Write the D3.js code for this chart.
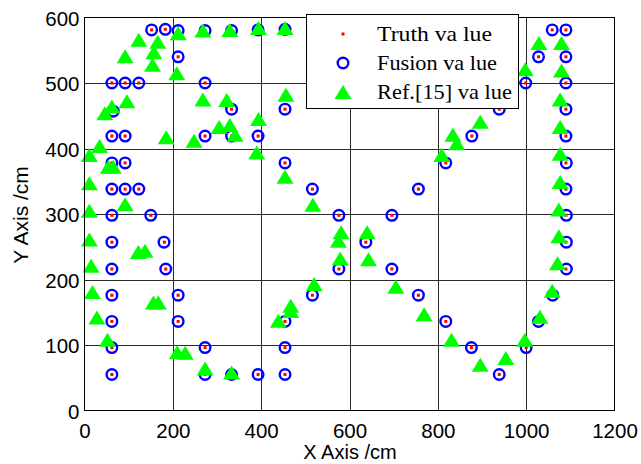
<!DOCTYPE html>
<html>
<head>
<meta charset="utf-8">
<script src="https://cdn.jsdelivr.net/npm/d3@7"></script>
<style>
  body { margin: 0; background: #fff; }
  svg { display: block; }
</style>
</head>
<body>
<svg id="chart"></svg>
<script>
var width = 641;
var height = 464;

// truth positions (cm)
var truthX = [152,183,212,273,333,393,454,1059,1090,
              212,1028,1090,
              62,92,123,273,999,1090,
              62,333,454,939,1090,
              62,92,273,333,393,877,1090,
              62,92,454,818,1090,
              62,92,123,516,756,1090,
              62,150,576,696,1090,
              62,181,637,1090,
              62,184,576,696,1090,
              62,212,516,756,1060,
              62,212,454,818,1029,
              62,273,454,876,1000,
              62,273,333,393,454,939];
var truthY = [581,582,580,580,580,581,582,581,581,
              540,540,540,
              500,500,500,500,500,500,
              460,460,460,460,460,
              419,419,419,419,419,419,419,
              378,378,378,378,378,
              338,338,338,338,338,338,
              298,298,298,298,298,
              257,257,257,257,
              216,216,216,216,216,
              176,176,176,176,176,
              136,136,136,136,136,
              96,96,96,96,96,
              55,55,55,55,55,55];

// fusion estimates (cm)
var fusionX = [152,183,212,273,333,393,454,1059,1090,
               212,1028,1090,
               62,92,123,273,999,1090,
               65,333,454,939,1090,
               62,92,273,333,393,877,1090,
               62,92,454,818,1091,
               62,92,123,516,756,1090,
               62,150,576,696,1091,
               62,180,637,1091,
               62,184,576,696,1091,
               62,212,516,756,1060,
               62,212,454,818,1028,
               62,273,454,876,1000,
               62,273,333,393,454,939];
var fusionY = [581,582,580,580,580,581,582,581,581,
               540,540,540,
               500,500,500,500,500,500,
               457,460,460,460,460,
               419,419,419,419,419,419,419,
               378,378,378,378,378,
               338,338,338,338,338,338,
               298,298,298,298,298,
               257,257,257,257,
               216,216,216,216,216,
               176,176,176,176,176,
               136,136,136,136,136,
               96,96,96,96,96,
               55,55,55,55,55,55];

// Ref.[15] positions (cm)
var refX = [123,166,157,154,212,268,329,394,454,
            92,209,268,322,96,62,46,185,248,305,329,341,394,390,
            34,11,54,65,11,92,11,11,122,137,15,18,156,167,28,52,
            210,228,273,333,439,456,454,517,834,843,809,998,
            581,575,579,640,643,520,467,467,705,769,831,896,954,
            997,1031,1059,1071,896,1029,1080,1080,1077,1077,1077,1077,1074,1074];
var refY = [566,563,547,528,576,580,581,584,584,
            541,515,475,474,472,464,454,417,412,433,436,421,445,394,
            404,390,372,372,347,315,305,261,242,244,221,181,165,165,142,108,
            89,88,64,58,137,482,357,314,421,408,390,521,
            272,259,232,272,231,193,160,152,189,147,108,70,80,
            108,143,183,225,441,561,561,519,475,433,392,349,307,266];

var xTicks = [0,200,400,600,800,1000,1200];
var yTicks = [0,100,200,300,400,500,600];
var legendLabels = ["Truth va lue", "Fusion va lue", "Ref.[15] va lue"];

var svg = d3.select("#chart")
  .attr("width", width)
  .attr("height", height);

var x = d3.scaleLinear().domain([0, 1200]).range([84.5, 614.5]);
var y = d3.scaleLinear().domain([0, 600]).range([410.5, 17.5]);

// grid
var grid = svg.append("g").attr("class", "grid")
  .style("stroke", "#2a2a2a").style("stroke-width", 1);
grid.selectAll("line.gx")
  .data(xTicks.slice(1, -1))
  .enter().append("line")
  .attr("x1", function(d) { return Math.round(x(d)) + 0.5; })
  .attr("x2", function(d) { return Math.round(x(d)) + 0.5; })
  .attr("y1", y(0)).attr("y2", y(600));
grid.selectAll("line.gy")
  .data(yTicks.slice(1, -1))
  .enter().append("line")
  .attr("y1", function(d) { return Math.round(y(d)) + 0.5; })
  .attr("y2", function(d) { return Math.round(y(d)) + 0.5; })
  .attr("x1", x(0)).attr("x2", x(1200));

// axes
var xAxis = d3.axisBottom(x).tickValues(xTicks).tickFormat(d3.format("d")).tickSize(0).tickPadding(0);
var yAxis = d3.axisLeft(y).tickValues(yTicks).tickFormat(d3.format("d")).tickSize(0).tickPadding(0);

var gx = svg.append("g").attr("transform", "translate(0," + y(0) + ")").call(xAxis);
gx.select(".domain").remove();
gx.selectAll("text")
  .attr("y", 27).attr("dy", 0)
  .style("font-family", "'Liberation Sans', Arial, sans-serif")
  .style("font-size", "20.5px").style("fill", "#000");

var gy = svg.append("g").attr("transform", "translate(" + x(0) + ",0)").call(yAxis);
gy.select(".domain").remove();
gy.selectAll("text")
  .attr("x", -5).attr("dy", "0.38em")
  .style("font-family", "'Liberation Sans', Arial, sans-serif")
  .style("font-size", "20.5px").style("fill", "#000");

// markers
svg.append("g").selectAll("rect")
  .data(d3.range(truthX.length))
  .enter().append("rect")
  .attr("x", function(i) { return x(truthX[i]) - 1.5; })
  .attr("y", function(i) { return y(truthY[i]) - 1.5; })
  .attr("width", 3).attr("height", 3)
  .style("fill", "#ff0000");

svg.append("g").selectAll("circle")
  .data(d3.range(fusionX.length))
  .enter().append("circle")
  .attr("cx", function(i) { return x(fusionX[i]); })
  .attr("cy", function(i) { return y(fusionY[i]); })
  .attr("r", 5.3)
  .style("fill", "none")
  .style("stroke", "#0000ff")
  .style("stroke-width", 2.4);

function tri(cx, cy) {
  return "M" + cx + "," + (cy - 7) + "L" + (cx + 8.5) + "," + (cy + 7) + "L" + (cx - 8.5) + "," + (cy + 7) + "Z";
}

svg.append("g").selectAll("path")
  .data(d3.range(refX.length))
  .enter().append("path")
  .attr("d", function(i) { return tri(x(refX[i]), y(refY[i])); })
  .style("fill", "#00ff00");

// frame
svg.append("rect")
  .attr("x", x(0)).attr("y", y(600))
  .attr("width", x(1200) - x(0)).attr("height", y(0) - y(600))
  .style("fill", "none").style("stroke", "#000").style("stroke-width", 1);

// axis titles
svg.append("text")
  .attr("x", 350).attr("y", 459)
  .attr("text-anchor", "middle")
  .style("font-family", "'Liberation Sans', Arial, sans-serif")
  .style("font-size", "20px")
  .text("X Axis /cm");

svg.append("text")
  .attr("transform", "translate(28,215) rotate(-90)")
  .attr("text-anchor", "middle")
  .style("font-family", "'Liberation Sans', Arial, sans-serif")
  .style("font-size", "21px")
  .text("Y Axis /cm");

// legend
var leg = svg.append("g");
leg.append("rect")
  .attr("x", 306.5).attr("y", 14.5)
  .attr("width", 212).attr("height", 94)
  .style("fill", "#fff").style("stroke", "#000").style("stroke-width", 1);

var rowY = [34, 63, 92];
var textW = [115, 120, 135];
leg.append("rect").attr("x", 341.5).attr("y", rowY[0] - 1.5)
  .attr("width", 3).attr("height", 3).style("fill", "#ff0000");
leg.append("circle").attr("cx", 343).attr("cy", rowY[1]).attr("r", 5.3)
  .style("fill", "none").style("stroke", "#0000ff").style("stroke-width", 2.4);
leg.append("path").attr("d", tri(343, rowY[2])).style("fill", "#00ff00");

leg.selectAll("text")
  .data(legendLabels)
  .enter().append("text")
  .attr("x", 377)
  .attr("y", function(d, i) { return rowY[i] + 7; })
  .attr("textLength", function(d, i) { return textW[i]; })
  .attr("lengthAdjust", "spacingAndGlyphs")
  .style("font-family", "'Liberation Serif', 'Times New Roman', serif")
  .style("font-size", "21px")
  .text(function(d) { return d; });
</script>
</body>
</html>
